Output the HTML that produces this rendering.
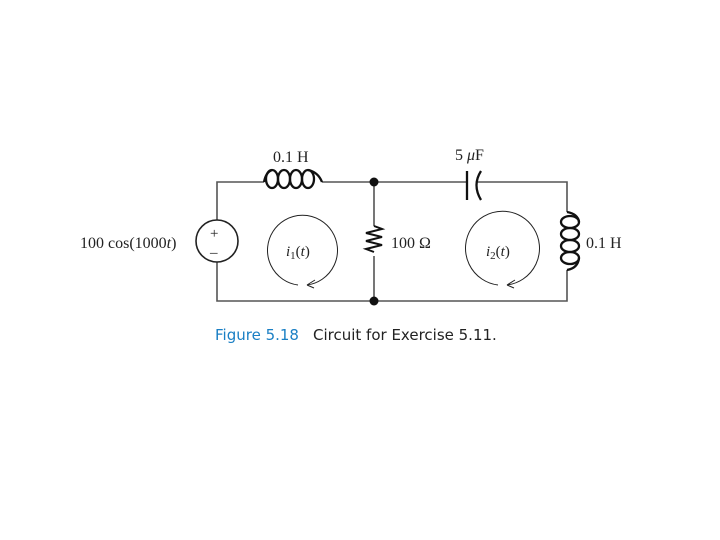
<html><body style="margin:0;background:#fff">
<svg width="720" height="540" viewBox="0 0 720 540" xmlns="http://www.w3.org/2000/svg">
<g stroke="#555" stroke-width="1.6" fill="none">
<path d="M217 220 V182 H264 M322 182 H467 M476 182 H567 V212 M567 270 V301 H217 V262"/>
<path d="M374 182 V226 M374 256 V301"/>
</g>
<path d="M374 226 l8 3 -16 4 16 4 -16 4 16 4 -16 4 8 3" stroke="#111" stroke-width="2" fill="none"/>
<g stroke="#111" stroke-width="2.3" fill="none">
<ellipse cx="272" cy="179" rx="6" ry="9"/>
<ellipse cx="284" cy="179" rx="6" ry="9"/>
<ellipse cx="296" cy="179" rx="6" ry="9"/>
<ellipse cx="308" cy="179" rx="6" ry="9"/>
<path d="M264 182 Q266 172 272 170 M308 170 Q318 172 322 182"/>
<ellipse cx="570" cy="222" rx="9" ry="6"/>
<ellipse cx="570" cy="234" rx="9" ry="6"/>
<ellipse cx="570" cy="246" rx="9" ry="6"/>
<ellipse cx="570" cy="258" rx="9" ry="6"/>
<path d="M567 212 Q578 214 579 222 M579 258 Q578 268 567 270"/>
<path d="M467 171 V200"/>
<path d="M481 171 q-9 14 0 29"/>
</g>
<circle cx="217" cy="241" r="21" stroke="#222" stroke-width="1.6" fill="#fff"/>
<circle cx="374" cy="182" r="4.5" fill="#111"/>
<circle cx="374" cy="301" r="4.5" fill="#111"/>
<g stroke="#222" stroke-width="1" fill="none">
<path d="M298 285 A35 35 0 1 1 307 285"/>
<path d="M307 285 l8 -5 M307 285 l7 3"/>
<path d="M498 285 A37 37 0 1 1 507 285"/>
<path d="M507 285 l8 -5 M507 285 l7 3"/>
</g>
<g font-family="Liberation Serif, serif" font-size="16" fill="#222">
<text x="273" y="162">0.1 H</text>
<text x="455" y="160">5 <tspan font-style="italic">μ</tspan>F</text>
<text x="80" y="248">100 cos(1000<tspan font-style="italic">t</tspan>)</text>
<text x="210" y="238" font-size="15">+</text>
<text x="210" y="257" font-size="15">–</text>
<text x="391" y="248">100 Ω</text>
<text x="586" y="248">0.1 H</text>
<text x="286" y="256" font-size="15"><tspan font-style="italic">i</tspan><tspan font-size="11" dy="3">1</tspan><tspan dy="-3">(<tspan font-style="italic">t</tspan>)</tspan></text>
<text x="486" y="256" font-size="15"><tspan font-style="italic">i</tspan><tspan font-size="11" dy="3">2</tspan><tspan dy="-3">(<tspan font-style="italic">t</tspan>)</tspan></text>
</g>
<text x="215" y="340" font-family="DejaVu Sans, sans-serif" font-size="15" fill="#1a7fc4">Figure 5.18</text>
<text x="313" y="340" font-family="DejaVu Sans, sans-serif" font-size="15" fill="#222">Circuit for Exercise 5.11.</text>
</svg>
</body></html>
